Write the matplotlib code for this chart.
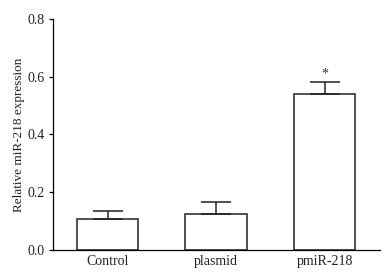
import numpy as np
import matplotlib
matplotlib.use('Agg')
import matplotlib.pyplot as plt

groups = ['Control', 'plasmid', 'pmiR-218']
means = [0.107, 0.124, 0.541]
errors = [0.027, 0.041, 0.041]

plt.rcParams['font.family'] = ['Liberation Serif', 'DejaVu Serif']

fig = plt.figure(figsize=(3.87, 2.78), dpi=100)
ax = fig.add_axes([0.137, 0.101, 0.845, 0.831])

x = np.arange(len(groups))
ax.bar(x, means, width=0.567, color='white', edgecolor='#222222', linewidth=1.1)
ax.errorbar(x, means, yerr=[np.zeros(len(means)), errors], fmt='none',
            ecolor='#222222', elinewidth=1.1, capsize=11, capthick=1.1)
ax.text(x[2], means[2] + errors[2] + 0.003, '*', ha='center', va='bottom',
        fontsize=10, color='#333333')

ax.set_xlim(-0.502, 2.51)
ax.set_ylim(0, 0.8)
ax.set_yticks([0.0, 0.2, 0.4, 0.6, 0.8])
ax.set_yticklabels(['0.0', '0.2', '0.4', '0.6', '0.8'])
ax.set_xticks(x)
ax.set_xticklabels(groups)
ax.tick_params(axis='x', length=0, pad=4, labelsize=10, labelcolor='#222222')
ax.tick_params(axis='y', length=3, width=0.9, pad=3, labelsize=10,
               direction='out', labelcolor='#222222')
ax.spines['top'].set_visible(False)
ax.spines['right'].set_visible(False)
ax.spines['left'].set_linewidth(0.9)
ax.spines['bottom'].set_linewidth(0.9)
ax.set_ylabel('Relative miR-218 expression', fontsize=9.5, color='#222222')
ax.yaxis.set_label_coords(-0.086, 0.5)

fig.savefig('out.png', dpi=100)
